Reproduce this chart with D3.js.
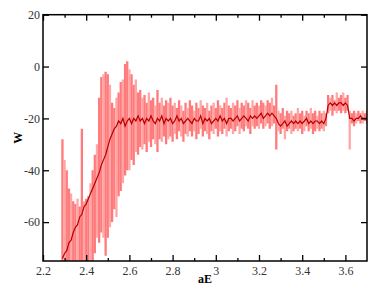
<!DOCTYPE html>
<html>
<head>
<meta charset="utf-8">
<script src="https://cdn.jsdelivr.net/npm/d3@7"></script>
<style>
  body { margin: 0; background: #fff; }
  svg text { font-family: "Liberation Serif", "Times New Roman", serif; }
</style>
</head>
<body>
<svg id="chart" width="387" height="299"></svg>
<script>
// aE grid
var aE = [
  2.29, 2.30, 2.31, 2.32, 2.33, 2.34, 2.35, 2.36, 2.37, 2.38,
  2.39, 2.40, 2.41, 2.42, 2.43, 2.44, 2.45, 2.46, 2.47, 2.48,
  2.49, 2.50, 2.51, 2.52, 2.53, 2.54, 2.55, 2.56, 2.57, 2.58,
  2.59, 2.60, 2.61, 2.62, 2.63, 2.64, 2.65, 2.66, 2.67, 2.68,
  2.69, 2.70, 2.71, 2.72, 2.73, 2.74, 2.75, 2.76, 2.77, 2.78,
  2.79, 2.80, 2.81, 2.82, 2.83, 2.84, 2.85, 2.86, 2.87, 2.88,
  2.89, 2.90, 2.91, 2.92, 2.93, 2.94, 2.95, 2.96, 2.97, 2.98,
  2.99, 3.00, 3.01, 3.02, 3.03, 3.04, 3.05, 3.06, 3.07, 3.08,
  3.09, 3.10, 3.11, 3.12, 3.13, 3.14, 3.15, 3.16, 3.17, 3.18,
  3.19, 3.20, 3.21, 3.22, 3.23, 3.24, 3.25, 3.26, 3.27, 3.28,
  3.29, 3.30, 3.31, 3.32, 3.33, 3.34, 3.35, 3.36, 3.37, 3.38,
  3.39, 3.40, 3.41, 3.42, 3.43, 3.44, 3.45, 3.46, 3.47, 3.48,
  3.49, 3.50, 3.51, 3.52, 3.53, 3.54, 3.55, 3.56, 3.57, 3.58,
  3.59, 3.60, 3.61, 3.62, 3.63, 3.64, 3.65, 3.66, 3.67, 3.68,
  3.69, 3.70
];

// central W values
var W = [
  -74, -72, -71, -68, -67, -64, -62, -61, -58, -57,
  -54, -53, -51, -49, -47, -45, -43, -41, -38, -36,
  -34, -31, -28, -26, -24, -23, -21, -22, -20, -23,
  -21, -20, -22, -20, -21, -19, -21, -20, -22, -20,
  -21, -19, -21, -22, -20, -21, -19, -22, -20, -21,
  -20, -22, -21, -19, -21, -20, -22, -21, -20, -21,
  -22, -20, -21, -21, -19, -22, -20, -21, -20, -22,
  -21, -20, -21, -19, -21, -20, -22, -20, -20, -21,
  -20, -19, -21, -20, -19, -20, -21, -19, -20, -19,
  -20, -19, -18, -20, -19, -18, -19, -18, -19, -20,
  -22, -23, -22, -21, -23, -22, -21, -22, -21, -22,
  -21, -22, -21, -20, -22, -21, -22, -21, -21, -22,
  -21, -22, -20, -15, -14, -15, -14, -15, -14, -14,
  -15, -14, -15, -20, -20, -21, -20, -20, -19, -20,
  -20, -20
];

// error bar tops
var Whi = [
  -28, -36, -40, -47, -49, -52, -53, -51, -54, -24,
  -52, -51, -50, -45, -40, -34, -30, -12, -4, -3,
  -2, -3, -7, -14, -16, -12, -10, -6, -5, 1,
  2, -1, -3, -7, -5, -10, -9, -12, -11, -14,
  -10, -13, -12, -15, -9, -14, -12, -15, -13, -14,
  -12, -15, -14, -16, -13, -15, -17, -14, -16, -13,
  -15, -17, -14, -16, -13, -15, -16, -14, -17, -15,
  -14, -16, -13, -15, -16, -14, -12, -15, -16, -14,
  -15, -13, -16, -14, -15, -13, -14, -16, -13, -15,
  -14, -15, -13, -14, -15, -13, -14, -12, -15, -7,
  -17, -18, -16, -19, -17, -18, -17, -19, -18, -16,
  -18, -17, -19, -17, -18, -16, -18, -17, -19, -17,
  -18, -17, -18, -11, -12, -11, -13, -10, -12, -11,
  -10, -12, -11, -17, -18, -17, -18, -17, -18, -17,
  -18, -17
];

// error bar bottoms
var Wlo = [
  -80, -80, -80, -80, -80, -80, -80, -80, -80, -80,
  -80, -80, -78, -77, -76, -72, -66, -68, -64, -66,
  -73, -66, -62, -60, -55, -58, -50, -48, -45, -42,
  -40, -40, -36, -38, -33, -34, -31, -32, -30, -33,
  -29, -31, -28, -30, -33, -28, -29, -27, -30, -28,
  -27, -29, -26, -28, -25, -27, -29, -26, -27, -25,
  -27, -25, -28, -26, -24, -27, -25, -26, -28, -25,
  -26, -24, -27, -25, -26, -24, -27, -25, -24, -26,
  -25, -23, -26, -24, -25, -23, -24, -26, -23, -24,
  -23, -24, -22, -24, -23, -22, -24, -23, -22, -32,
  -25, -26, -24, -28, -25, -24, -26, -25, -24, -25,
  -24, -26, -25, -23, -25, -24, -26, -25, -24, -25,
  -24, -25, -23, -18, -17, -19, -17, -18, -17, -18,
  -17, -18, -17, -32, -22, -23, -22, -21, -22, -22,
  -21, -22
];

var xTicks = [2.2, 2.4, 2.6, 2.8, 3, 3.2, 3.4, 3.6];
var xMinor = [2.3, 2.5, 2.7, 2.9, 3.1, 3.3, 3.5];
var yTicks = [-60, -40, -20, 0, 20];

var svg = d3.select("#chart"),
    margin = {top: 14.7, right: 20, bottom: 38, left: 43},
    width = +svg.attr("width") - margin.left - margin.right,
    height = +svg.attr("height") - margin.top - margin.bottom;

var x = d3.scaleLinear().domain([2.2, 3.7]).range([0, width]);
var y = d3.scaleLinear().domain([-75, 20]).range([height, 0]);

var g = svg.append("g")
           .attr("transform", "translate(" + margin.left + "," + margin.top + ")");

g.append("clipPath").attr("id", "clip")
 .append("rect").attr("width", width).attr("height", height);

var pts = aE.map(function(d, i) {
    return {x: d, w: W[i], hi: Whi[i], lo: Wlo[i], i: i};
});

var plot = g.append("g").attr("clip-path", "url(#clip)");

plot.selectAll("line.err")
    .data(pts)
    .enter().append("line")
    .attr("class", "err")
    .attr("x1", function(d) { return x(d.x); })
    .attr("x2", function(d) { return x(d.x); })
    .attr("y1", function(d) { return y(d.hi); })
    .attr("y2", function(d) { return y(d.lo); })
    .attr("stroke", function(d) { return d.i % 3 == 1 ? "#ffa6a6" : "#ff7b7b"; })
    .attr("stroke-width", 2.3);

var line = d3.line()
             .x(function(d) { return x(d.x); })
             .y(function(d) { return y(d.w); });

plot.append("path")
    .datum(pts)
    .attr("d", line)
    .attr("fill", "none")
    .attr("stroke", "#b80000")
    .attr("stroke-width", 1.2);

function noLabels(a) { return a.tickFormat(""); }

// major ticks, all four sides
g.append("g").attr("transform", "translate(0," + height + ")")
 .call(d3.axisBottom(x).tickValues(xTicks).tickSizeInner(-6).tickSizeOuter(0).tickPadding(5)
        .tickFormat(function(d) { return String(+d.toFixed(1)); }));
g.append("g")
 .call(noLabels(d3.axisTop(x).tickValues(xTicks).tickSizeInner(-6).tickSizeOuter(0)));
g.append("g").attr("transform", "translate(0," + height + ")")
 .call(noLabels(d3.axisBottom(x).tickValues(xMinor).tickSizeInner(-3).tickSizeOuter(0)));
g.append("g")
 .call(noLabels(d3.axisTop(x).tickValues(xMinor).tickSizeInner(-3).tickSizeOuter(0)));
g.append("g")
 .call(d3.axisLeft(y).tickValues(yTicks).tickSizeInner(-6).tickSizeOuter(0).tickPadding(3)
        .tickFormat(function(d) { return String(d); }));
g.append("g").attr("transform", "translate(" + width + ",0)")
 .call(noLabels(d3.axisRight(y).tickValues(yTicks).tickSizeInner(-6).tickSizeOuter(0)));

g.selectAll(".domain").remove();
g.selectAll(".tick line").attr("stroke", "#000").attr("stroke-width", 1.3);
g.selectAll(".tick text")
 .attr("fill", "#333")
 .style("font-family", "'Liberation Serif', 'Times New Roman', serif")
 .style("font-size", "12px");

g.append("rect")
 .attr("width", width).attr("height", height)
 .attr("fill", "none").attr("stroke", "#000").attr("stroke-width", 1.5);

svg.append("text")
   .attr("x", margin.left + width / 2).attr("y", 283)
   .attr("text-anchor", "middle")
   .style("font-weight", "bold").style("font-size", "12px")
   .text("aE");

svg.append("text")
   .attr("transform", "translate(22," + (margin.top + height / 2) + ") rotate(-90)")
   .attr("text-anchor", "middle")
   .style("font-weight", "bold").style("font-size", "12px")
   .text("W");
</script>
</body>
</html>
